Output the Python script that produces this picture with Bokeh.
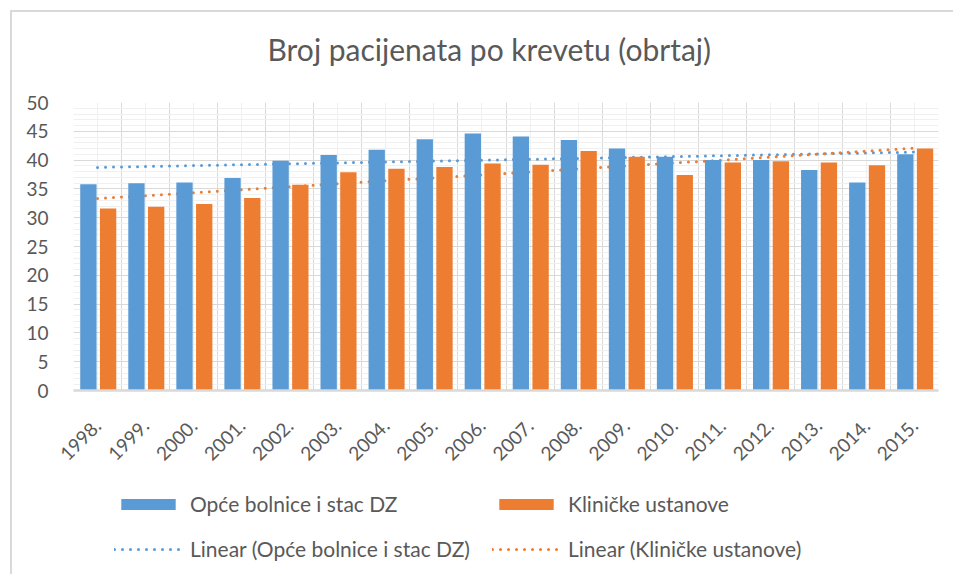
import numpy as np
from bokeh.plotting import figure
from bokeh.layouts import column
from bokeh.models import Range1d, FixedTicker, Legend, LegendItem, Label
from bokeh.embed import file_html
from bokeh.resources import INLINE

# ---- data ----
years = ["1998.", "1999.", "2000.", "2001.", "2002.", "2003.", "2004.", "2005.", "2006.",
         "2007.", "2008.", "2009.", "2010.", "2011.", "2012.", "2013.", "2014.", "2015."]
opce_bolnice = [35.8, 36.0, 36.1, 36.9, 39.9, 40.9, 41.8, 43.6, 44.6,
                44.1, 43.5, 42.0, 40.6, 40.0, 40.0, 38.3, 36.1, 41.0]
klinicke = [31.6, 31.9, 32.4, 33.4, 35.7, 37.9, 38.5, 38.8, 39.4,
            39.2, 41.6, 40.6, 37.4, 39.6, 39.8, 39.6, 39.1, 42.0]
y_ticks = [0, 5, 10, 15, 20, 25, 30, 35, 40, 45, 50]

name_a = "Opće bolnice i stac DZ"
name_b = "Kliničke ustanove"
title_text = "Broj pacijenata po krevetu (obrtaj)"

BLUE = "#5B9BD5"
ORANGE = "#ED7D31"
TXT = "#595959"
FONT = "Lato"

idx = list(range(len(years)))
xi = np.array(idx, dtype=float)


def linear_trend(vals):
    k, b = np.polyfit(xi, np.array(vals, dtype=float), 1)
    return list(k * xi + b)


W = 941
FRAME_L = 61
FRAME_R = 926
FW = FRAME_R - FRAME_L

# ---- title strip ----
t = figure(width=W, height=60, output_backend="svg", toolbar_location=None, title=None,
           x_range=Range1d(0, FW), y_range=Range1d(0, 60),
           x_axis_type=None, y_axis_type=None, min_border=0)
t.outline_line_color = None
t.add_layout(Label(x=194, y=24, text=title_text, text_font=FONT, text_font_size="30px",
                   text_color=TXT, text_align="left", text_baseline="alphabetic"))

# ---- chart ----
p = figure(width=W, height=408, output_backend="svg", toolbar_location=None, title=None,
           x_range=Range1d(-0.5, len(years) - 0.5), y_range=Range1d(0, 50),
           min_border_left=FRAME_L, min_border_right=W - FRAME_R,
           min_border_top=30, min_border_bottom=90)
p.outline_line_color = None

p.xaxis.ticker = FixedTicker(ticks=idx, minor_ticks=[i - 0.5 for i in range(len(years) + 1)])
p.xaxis.major_label_overrides = {i: y for i, y in enumerate(years)}
p.xaxis.major_label_orientation = float(np.pi / 4)
p.xaxis.major_tick_line_color = None
p.xaxis.minor_tick_line_color = None
p.xaxis.major_tick_out = 0
p.xaxis.major_label_standoff = 28
p.xaxis.axis_line_color = "#d9d9d9"
p.xaxis.axis_line_width = 2.5
p.xaxis.major_label_text_font = FONT
p.xaxis.major_label_text_font_size = "19px"
p.xaxis.major_label_text_color = TXT

p.yaxis.ticker = FixedTicker(ticks=y_ticks, minor_ticks=list(range(0, 51)))
p.yaxis.axis_line_color = None
p.yaxis.major_tick_line_color = None
p.yaxis.minor_tick_line_color = None
p.yaxis.major_tick_out = 0
p.yaxis.major_label_standoff = 21
p.yaxis.major_label_text_font = FONT
p.yaxis.major_label_text_font_size = "19px"
p.yaxis.major_label_text_color = TXT

p.xgrid.grid_line_color = "#f0f0f0"
p.xgrid.minor_grid_line_color = "#d9d9d9"
p.ygrid.grid_line_color = "#d9d9d9"
p.ygrid.minor_grid_line_color = "#f0f0f0"

# trend lines (behind bars)
p.line(xi, linear_trend(opce_bolnice), line_color=BLUE, line_width=3,
       line_dash="0 8", line_cap="round")
p.line(xi, linear_trend(klinicke), line_color=ORANGE, line_width=3,
       line_dash="0 8", line_cap="round")

# bars
p.vbar(x=list(xi - 0.19), top=opce_bolnice, width=0.34, fill_color=BLUE, line_color=None)
p.vbar(x=list(xi + 0.22), top=klinicke, width=0.34, fill_color=ORANGE, line_color=None)

# ---- legend strip (separate canvas so nothing gets clipped) ----
q = figure(width=W, height=94, output_backend="svg", toolbar_location=None, title=None,
           x_range=Range1d(0, 1), y_range=Range1d(0, 1),
           x_axis_type=None, y_axis_type=None, min_border=0)
q.outline_line_color = None
nan = [float("nan")]
k_a = q.vbar(x=nan, top=nan, width=0.1, fill_color=BLUE, line_color=None)
k_b = q.vbar(x=nan, top=nan, width=0.1, fill_color=ORANGE, line_color=None)
l_a = q.line(x=nan, y=nan, line_color=BLUE, line_width=3, line_dash="0 8", line_cap="round")
l_b = q.line(x=nan, y=nan, line_color=ORANGE, line_width=3, line_dash="0 8", line_cap="round")

common = dict(orientation="horizontal", glyph_width=68, glyph_height=14, label_standoff=8,
              label_width=292, label_height=24, spacing=10,
              padding=0, margin=0, border_line_color=None, background_fill_alpha=0,
              label_text_font=FONT, label_text_font_size="21px", label_text_color=TXT)
leg1 = Legend(items=[LegendItem(label=name_a, renderers=[k_a]),
                     LegendItem(label=name_b, renderers=[k_b])],
              location=(41, 58), **common)
leg2 = Legend(items=[LegendItem(label="Linear (" + name_a + ")", renderers=[l_a]),
                     LegendItem(label="Linear (" + name_b + ")", renderers=[l_b])],
              location=(41, 13), **common)
q.add_layout(leg1)
q.add_layout(leg2)

layout = column(t, p, q, margin=(10, 0, 0, 10),
                styles={"border-left": "2px solid #d9d9d9", "border-top": "2px solid #d9d9d9"})

open("out.html", "w").write(file_html(layout, INLINE))
